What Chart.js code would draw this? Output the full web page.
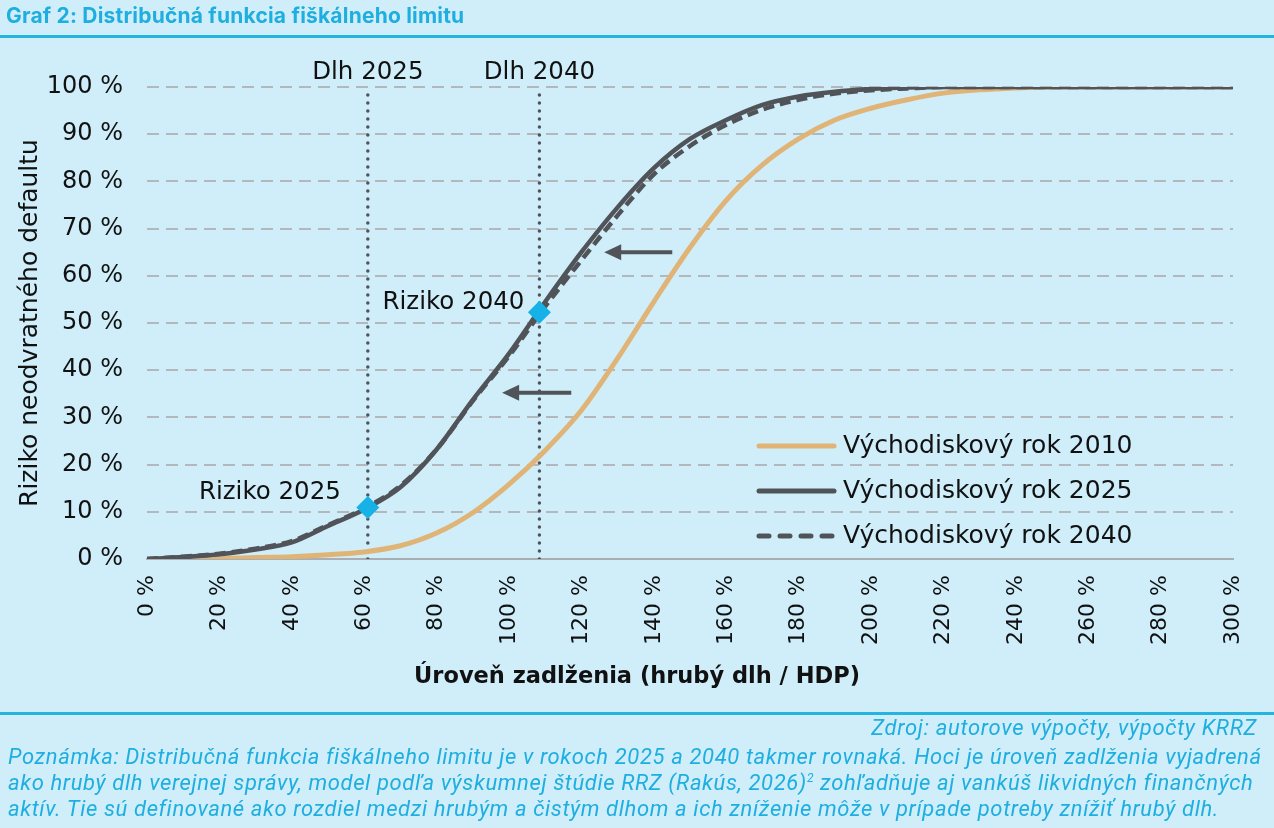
<!DOCTYPE html>
<html lang="sk">
<head>
<meta charset="utf-8">
<script src="https://cdn.jsdelivr.net/npm/chart.js@4.4.1/dist/chart.umd.min.js"></script>
<style>
  html, body { margin: 0; padding: 0; }
  body { width: 1274px; height: 828px; background: #cfeefa; position: relative; overflow: hidden; font-family: "Inter", sans-serif; }
  #wrap { position: absolute; left: 0; top: 0; width: 1274px; height: 828px; }
  .title { position: absolute; left: 6px; top: 3px; font-weight: 700; font-size: 21px; letter-spacing: 0.2px; color: #1eaee0; }
  .rule { position: absolute; left: 0; width: 1274px; height: 3px; background: #25b4de; }
  .src { position: absolute; right: 17px; top: 715px; line-height: 26px; font-family: "Roboto", sans-serif; font-style: italic; font-size: 22px; letter-spacing: 0.7px; color: #1eaee0; }
  .note { position: absolute; left: 8px; top: 744px; width: 1266px; white-space: nowrap; font-family: "Roboto", sans-serif; font-style: italic; font-size: 22px; letter-spacing: 0.62px; line-height: 26px; color: #1eaee0; }
  .note sup { font-size: 12px; line-height: 0; }
</style>
</head>
<body>
<div id="wrap"><canvas id="chart" width="1274" height="828"></canvas></div>
<div class="title">Graf 2: Distribučná funkcia fiškálneho limitu</div>
<div class="rule" style="top:35px"></div>
<div class="rule" style="top:712px"></div>
<div class="src">Zdroj: autorove výpočty, výpočty KRRZ</div>
<div class="note">Poznámka: Distribučná funkcia fiškálneho limitu je v rokoch 2025 a 2040 takmer rovnaká. Hoci je úroveň zadlženia vyjadrená<br>ako hrubý dlh verejnej správy, model podľa výskumnej štúdie RRZ (Rakús, 2026)<sup>2</sup> zohľadňuje aj vankúš likvidných finančných<br>aktív. Tie sú definované ako rozdiel medzi hrubým a čistým dlhom a ich zníženie môže v prípade potreby znížiť hrubý dlh.</div>
<script>
// =========================
// Data
// =========================
const debtLevels = [0, 10, 20, 30, 40, 50, 60, 70, 80, 90, 100, 110, 120, 130, 140, 150,
                    160, 170, 180, 190, 200, 210, 220, 230, 240, 250, 260, 270, 280, 290, 300];
const risk2010 = [0, 0, 0.1, 0.3, 0.5, 0.9, 1.5, 2.8, 5.5, 9.8, 15.8, 23, 31.5, 42.5, 54.5, 66,
                  76, 83.5, 89, 93, 95.5, 97.3, 98.7, 99.4, 99.8, 100, 100, 100, 100, 100, 100];
const risk2025 = [0, 0.4, 1.0, 2.0, 3.5, 7.0, 10.5, 15.2, 23.2, 33.7, 43.5, 54.5, 65, 74.5, 82.8, 89,
                  93, 96.2, 98, 99, 99.6, 99.9, 100, 100, 100, 100, 100, 100, 100, 100, 100];
const risk2040 = [0, 0.5, 1.1, 2.2, 3.8, 7.2, 10.7, 15.5, 23.2, 33.5, 43, 53.5, 63.3, 72.8, 81.5, 87.5,
                  92, 95.2, 97.3, 98.6, 99.3, 99.7, 100, 100, 100, 100, 100, 100, 100, 100, 100];
const seriesNames = ['Východiskový rok 2010', 'Východiskový rok 2025', 'Východiskový rok 2040'];

const debtMarks = [61, 108.4];          // Dlh 2025, Dlh 2040
const debtMarkNames = ['Dlh 2025', 'Dlh 2040'];
const riskMarks = [10.9, 52.3];          // Riziko 2025, Riziko 2040
const riskMarkNames = ['Riziko 2025', 'Riziko 2040'];
const arrowStart = [[145.1, 65], [117.2, 35.2]];
const arrowEnd = [[126.3, 65], [98.1, 35.2]];

const xTicks = [0, 20, 40, 60, 80, 100, 120, 140, 160, 180, 200, 220, 240, 260, 280, 300];
const yTicks = [0, 10, 20, 30, 40, 50, 60, 70, 80, 90, 100];

const ORANGE = '#e0b477';
const DARK = '#505459';
const BLUE = '#16b1e7';
const FONT = '"DejaVu Sans"';

const toPoints = (xs, ys) => xs.map((x, i) => ({ x: x, y: ys[i] }));

// =========================
// Annotations plugin
// =========================
const annotations = {
    id: 'annotations',
    afterDatasetsDraw(chart) {
        const { ctx, scales: { x, y } } = chart;
        ctx.save();
        ctx.fillStyle = '#111';
        ctx.font = '24.5px ' + FONT;
        ctx.textBaseline = 'middle';

        // Dlh labels above dotted lines
        ctx.textAlign = 'center';
        debtMarks.forEach((d, i) => ctx.fillText(debtMarkNames[i], x.getPixelForValue(d), 73));

        // Riziko labels next to diamonds (pixel offsets per label)
        const labelShift = [[-27, -15], [-15, -10]];
        ctx.textAlign = 'right';
        riskMarks.forEach((r, i) => {
            ctx.fillText(riskMarkNames[i],
                x.getPixelForValue(debtMarks[i]) + labelShift[i][0],
                y.getPixelForValue(r) + labelShift[i][1]);
        });

        // X axis title, centred on the page
        ctx.textAlign = 'center';
        ctx.font = 'bold 22.5px ' + FONT;
        ctx.fillText('Úroveň zadlženia (hrubý dlh / HDP)', chart.width / 2, 677);

        // Arrows
        ctx.strokeStyle = DARK;
        ctx.fillStyle = DARK;
        ctx.lineWidth = 4;
        arrowStart.forEach((s, i) => {
            const x0 = x.getPixelForValue(s[0]), y0 = y.getPixelForValue(s[1]);
            const x1 = x.getPixelForValue(arrowEnd[i][0]), y1 = y.getPixelForValue(arrowEnd[i][1]);
            ctx.beginPath();
            ctx.moveTo(x0, y0);
            ctx.lineTo(x1 + 12, y1);
            ctx.stroke();
            ctx.beginPath();
            ctx.moveTo(x1, y1);
            ctx.lineTo(x1 + 17, y1 - 8);
            ctx.lineTo(x1 + 17, y1 + 8);
            ctx.closePath();
            ctx.fill();
        });

        // Legend inside the plot
        const rows = [446, 491, 536];
        const styles = [
            { color: ORANGE, dash: [] },
            { color: DARK, dash: [] },
            { color: DARK, dash: [10, 11] }
        ];
        ctx.textAlign = 'left';
        ctx.font = '25px ' + FONT;
        ctx.fillStyle = '#111';
        rows.forEach((ry, i) => {
            ctx.strokeStyle = styles[i].color;
            ctx.setLineDash(styles[i].dash);
            ctx.lineWidth = 5;
            ctx.lineCap = 'round';
            ctx.beginPath();
            ctx.moveTo(759, ry);
            ctx.lineTo(834, ry);
            ctx.stroke();
            ctx.setLineDash([]);
            ctx.fillText(seriesNames[i], 843, ry);
        });
        ctx.restore();
    }
};

// =========================
// Chart
// =========================
new Chart(document.getElementById('chart'), {
    type: 'line',
    data: {
        datasets: [
            {
                label: 'markers',
                type: 'scatter',
                data: toPoints(debtMarks, riskMarks),
                pointStyle: 'rectRot',
                pointRadius: 11.5,
                pointBackgroundColor: BLUE,
                pointBorderWidth: 0,
                order: 0
            },
            {
                label: seriesNames[0],
                data: toPoints(debtLevels, risk2010),
                borderColor: ORANGE,
                borderWidth: 5,
                pointRadius: 0,
                cubicInterpolationMode: 'monotone',
                order: 4
            },
            {
                label: seriesNames[2],
                data: toPoints(debtLevels, risk2040),
                borderColor: DARK,
                borderWidth: 4.5,
                borderDash: [11, 6],
                pointRadius: 0,
                cubicInterpolationMode: 'monotone',
                order: 3
            },
            {
                label: seriesNames[1],
                data: toPoints(debtLevels, risk2025),
                borderColor: DARK,
                borderWidth: 4.5,
                pointRadius: 0,
                cubicInterpolationMode: 'monotone',
                order: 2
            },
            ...debtMarks.map(d => ({
                label: 'dlh',
                data: [{ x: d, y: 0 }, { x: d, y: 99 }],
                borderColor: DARK,
                borderWidth: 3.5,
                borderDash: [0, 8],
                borderCapStyle: 'round',
                pointRadius: 0,
                order: 5
            }))
        ]
    },
    options: {
        responsive: false,
        animation: false,
        layout: { padding: { left: 6, right: 41, top: 87, bottom: 129 } },
        plugins: {
            legend: { display: false },
            tooltip: { enabled: false }
        },
        scales: {
            x: {
                type: 'linear',
                min: 0,
                max: 300,
                afterBuildTicks: s => { s.ticks = xTicks.map(v => ({ value: v })); },
                afterFit: s => { s.height = 140; },
                ticks: {
                    color: '#111',
                    font: { family: FONT, size: 22 },
                    minRotation: 90,
                    maxRotation: 90,
                    padding: 8,
                    callback: v => v + ' %'
                },
                grid: { display: false },
                border: { display: true, color: '#a9aeb2', width: 2 },
                title: { display: false }
            },
            y: {
                min: 0,
                max: 100,
                afterBuildTicks: s => { s.ticks = yTicks.map(v => ({ value: v })); },
                afterFit: s => { s.width = 141; },
                ticks: {
                    color: '#111',
                    font: { family: FONT, size: 24 },
                    padding: 24,
                    callback: v => v + ' %'
                },
                grid: {
                    color: ctx => ctx.tick.value === 0 ? 'rgba(0,0,0,0)' : '#b3b8bc',
                    lineWidth: 2,
                    drawTicks: false
                },
                border: { display: false, dash: [12, 7] },
                title: {
                    display: true,
                    text: 'Riziko neodvratného defaultu',
                    color: '#111',
                    font: { family: FONT, size: 25 },
                    padding: { top: 9, bottom: 0 }
                }
            }
        }
    },
    plugins: [annotations]
});
</script>
</body>
</html>
